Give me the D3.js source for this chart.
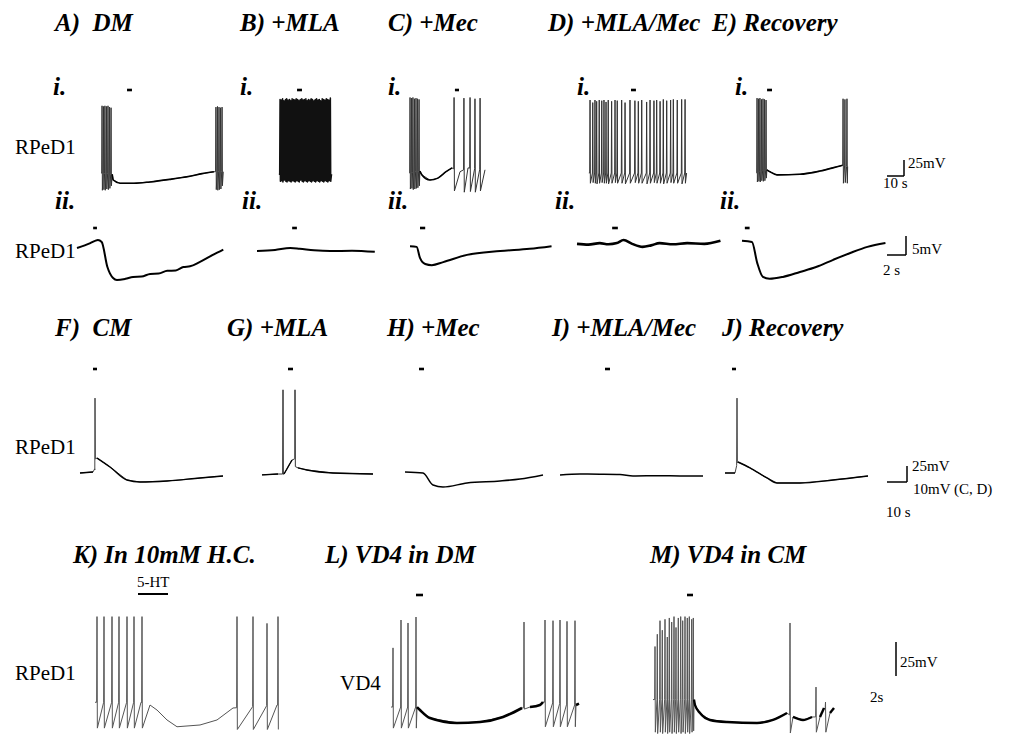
<!DOCTYPE html>
<html>
<head>
<meta charset="utf-8">
<script src="https://cdn.jsdelivr.net/npm/d3@7"></script>
<style>
html, body { margin: 0; padding: 0; background: #fff; }
svg { display: block; }
.title { font-family: "Liberation Serif", "Times New Roman", serif; font-weight: bold; font-style: italic; font-size: 25px; }
.lab { font-family: "Liberation Serif", "Times New Roman", serif; font-size: 21px; }
.sc { font-family: "Liberation Serif", "Times New Roman", serif; font-size: 15px; }
</style>
</head>
<body>
<svg id="fig" width="1016" height="734"></svg>
<script>
// --- Data: baseline points [s, mV], spikes [s, peak mV, trough mV], stimulus [s0, s1] ---

// row 1 (i.) : slow time base
const aBase = [[0.6,-60],[7.2,-62],[7.8,-71],[11.8,-76],[20,-76],[29.4,-74],[41,-70],[52.9,-65],[60,-61],[67,-58],[72.5,-58]];
const aSpikes = [[1.2,45,-87],[2.1,44,-86],[2.9,45,-87],[3.8,44,-85],[4.7,45,-86],[5.6,43,-84],[6.5,42,-80],
  [68.2,43,-86],[69.1,44,-87],[70.0,43,-86],[70.9,42,-85],[71.8,43,-80]];
const aStim = [15.9, 18.8];

const bBase = [[0.5,-62],[31.5,-62]];
const bSpikes = [[1.2,55,-73],[2.0,54,-72],[2.7,56,-74],[3.5,53,-71],[4.4,55,-73],[5.1,56,-74],[5.9,54,-72],[6.8,55,-73],
  [7.5,53,-74],[8.3,56,-72],[9.2,55,-73],[9.9,54,-74],[10.7,56,-72],[11.6,55,-73],[12.3,53,-74],[13.1,55,-71],
  [14.0,56,-73],[14.7,54,-74],[15.5,55,-72],[16.4,56,-73],[17.1,53,-74],[17.9,55,-72],[18.8,54,-73],[19.5,56,-74],
  [20.3,55,-72],[21.2,53,-73],[21.9,55,-74],[22.7,56,-72],[23.6,54,-73],[24.3,55,-74],[25.1,53,-72],[26.0,56,-73],
  [26.7,55,-74],[27.5,54,-72],[28.4,56,-73],[29.1,55,-74],[29.9,54,-72],[30.8,57,-73]];
const bStim = [11.2, 14.1];

const cBase = [[0.6,-60],[7.0,-57],[8.2,-63],[12.9,-71],[17.6,-68],[22.4,-58],[25.9,-52],[30.6,-58],[35.3,-52],[45.3,-55]];
const cSpikes = [[1.2,58,-85],[2.1,57,-84],[2.9,58,-86],[3.8,56,-85],[4.7,57,-84],[5.6,56,-83],[6.5,55,-80],
  [27.1,58,-88],[32.9,57,-90],[36.5,58,-89],[39.4,56,-90],[42.4,57,-88]];
const cStim = [27.6, 30.0];

const dBase = [[0.5,-60],[58,-60]];
const dSpikes = [[1.2,54,-76],[2.8,50,-75],[4.1,54,-76],[5.1,52,-77],[6.6,54,-76],[8.1,53,-75],[9.4,54,-76],[10.6,51,-76],
  [11.9,54,-77],[13.9,52,-76],[15.9,54,-75],[17.2,53,-76],[19.8,54,-76],[21.8,50,-77],[24.7,54,-76],[27.6,53,-75],
  [29.6,52,-76],[31.6,54,-76],[34.5,51,-77],[36.5,54,-76],[38.8,53,-75],[40.4,54,-76],[42.4,52,-76],[44.3,55,-77],
  [46.3,53,-76],[48.6,54,-75],[50.2,55,-76],[52.5,54,-76],[55.1,55,-77],[57.1,55,-76]];
const dStim = [25.3, 28.2];

const eBase = [[0.6,-60],[7.0,-55],[8.8,-58],[12.9,-63],[26.5,-62],[38.2,-57],[50,-49],[51.5,-48],[54.5,-50]];
const eSpikes = [[1.2,57,-74],[2.1,56,-73],[2.9,57,-74],[3.8,55,-72],[4.7,56,-73],[5.6,55,-72],[6.5,54,-68],
  [51.8,56,-76],[52.9,55,-75],[54.1,56,-76]];
const eStim = [7.1, 10.0];

// row 2 (ii.) : fast time base, subthreshold
const a2Base = [[0,-60.8],[1.4,-59.5],[1.9,-58.9],[2.2,-58.7],[2.6,-59.2],[3.2,-65.8],[3.8,-68.7],[4.2,-69.2],[5.1,-68.9],
  [5.9,-68.4],[6.8,-68.3],[7.7,-67.6],[8.6,-67.5],[9.5,-66.8],[10.4,-66.7],[11.2,-65.8],[11.9,-65.6],[12.9,-64.5],
  [14.3,-62.6],[15.4,-61.2]];
const a2Stim = [1.7, 2.1];
const b2Base = [[0,-61.6],[1.9,-61.3],[3.5,-60.8],[4.5,-61],[6,-61.4],[7.7,-61.6],[10,-61.5],[12.4,-61.8]];
const b2Stim = [3.7, 4.2];
const c2Base = [[0,-60.3],[0.7,-60.5],[1.05,-63.4],[1.6,-65],[2.3,-65.3],[3.5,-64.5],[6.0,-62.6],[9.5,-61.6],[12.6,-61],[14.9,-60.3]];
const c2Stim = [1.05, 1.6];
const d2Base = [[0,-59.7],[1.2,-59.9],[2.4,-59.5],[3.3,-59.8],[4.2,-59.5],[4.9,-58.7],[5.8,-59.7],[6.9,-60.5],[7.8,-60.1],
  [8.7,-59.5],[10.1,-59.8],[11.6,-59.5],[13.4,-59.7],[15.1,-58.9]];
const d2Stim = [3.7, 4.3];
const e2Base = [[0,-58.9],[1.05,-59.2],[1.6,-64.7],[2.2,-68.4],[2.9,-68.9],[4.3,-68.4],[6.1,-67.1],[7.8,-65.8],[9.6,-63.9],
  [11.4,-62.1],[13.2,-60.5],[15.1,-59.5]];
const e2Stim = [0.3, 0.8];

// row 3 : CM
const fBase = [[0,-60],[6.5,-58.4],[7.4,-55.3],[8.5,-36.6],[15,-50.6],[23.5,-71],[30,-74],[43.5,-72.5],[60,-67.8],[71.5,-64.7]];
const fSpikes = [[7.5,57,-38]];
const fStim = [6.5, 8.5];
const gBase = [[0,-63],[8,-61.6],[11,-61.6],[15,-39.7],[16.4,-37],[18,-52],[22.5,-55.3],[35.5,-60],[55.5,-61.6]];
const gSpikes = [[10.5,70,-62],[16.5,70,-50]];
const gStim = [13, 15.5];
const hBase = [[0,-58.4],[9,-60],[14,-78.8],[19,-81.9],[31,-75.6],[47.5,-72.5],[57.5,-69.4],[69,-63]];
const hStim = [7, 9.5];
const iBase = [[0,-63],[10,-61.6],[20,-61.8],[30,-62.3],[36.5,-64.7],[50,-64.2],[60,-64.7],[71.5,-64.7]];
const iStim = [22.5, 25];
const jBase = [[0,-60],[5,-60],[6.5,-42.8],[12.5,-52],[21,-67.8],[26,-75.6],[37.5,-75.6],[54,-71],[71.5,-64.7]];
const jSpikes = [[6,57,-44]];
const jStim = [3.5, 5.5];

// row 4
const kBase = [[0,-58],[4.6,-58],[5.5,-60],[6.2,-63.7],[7.2,-71],[8.2,-76],[10.5,-74.7],[12.2,-71],[13.8,-62.2],[18.2,-60]];
const kSpikes = [[0.2,5,-77],[0.9,5,-77],[1.7,5,-77],[2.4,5,-77],[3.2,5,-77],[3.9,5,-77],[4.7,5,-77],
  [14.2,5,-78],[15.8,5,-78],[17.2,0,-78],[18.3,5,-78]];
const kStim = [4.3, 7.3];
const lBase = [[0,-61.5],[2.6,-61.5],[2.9,-63.7],[3.9,-69.6],[6.6,-73.2],[8.9,-72.5],[11.2,-68.8],[13.1,-62.2],[13.9,-61.5],
  [14.9,-60],[15.2,-57.8],[18.5,-60],[18.8,-59]];
const lSpikes = [[0.2,-18,-77],[1.0,2.5,-77],[1.7,0.3,-77],[2.5,4.7,-77],[13.3,1,-63],
  [15.4,2.5,-76],[16.2,2,-76],[16.9,2.5,-76],[17.6,1.5,-76],[18.4,2,-76]];
const lStim = [2.5, 3.2];
const mBase = [[0,-56],[4.1,-56],[4.2,-60],[4.7,-65.9],[5.7,-71],[7.4,-72.5],[10.4,-73.2],[12,-71],[13.4,-65.9],[14,-68.8],
  [15,-71],[15.9,-68.8],[16.7,-68.8],[17.1,-62.2],[17.7,-65.9],[18.1,-62.2]];
const mSpikes = [[0.2,-17,-80],[0.43,-8,-81],[0.7,2,-80],[0.93,-5,-81],[1.2,3,-80],[1.43,-10,-81],[1.63,4,-80],[1.87,1,-81],
  [2.1,5,-80],[2.3,-3,-81],[2.53,4,-80],[2.77,5,-81],[2.97,2,-80],[3.2,5,-81],[3.43,4,-80],[3.63,5,-81],[3.87,3,-80],
  [4.03,4,-79],[13.7,0.3,-80.6],[16.3,-46.8,-80],[17.25,-57.8,-80]];
const mStim = [3.4, 4.0];

// --- Layout ---
const svg = d3.select("#fig");
const rows = [
  { pxS: 1.7, rest: 173, pxMV: 0.64, stimY: 90 },
  { pxS: 9.5, rest: 245, pxMV: 3.8, stimY: 228 },
  { pxS: 2.0, rest: 473, pxMV: 0.64, stimY: 369 },
  { pxS: 10, rest: 705, pxMV: 1.36, stimY: 595 }
];

const panels = [
  { row: 0, x0: 100, base: aBase, spikes: aSpikes, stim: aStim, thick: 1.6, color: "#333" },
  { row: 0, x0: 278, base: bBase, spikes: bSpikes, stim: bStim, thick: 0, sw: 1.5, color: "#111" },
  { row: 0, x0: 408, base: cBase, spikes: cSpikes, stim: cStim, thick: 1.6, color: "#333" },
  { row: 0, x0: 588, base: dBase, spikes: dSpikes, stim: dStim, thick: 0, color: "#333" },
  { row: 0, x0: 755, base: eBase, spikes: eSpikes, stim: eStim, thick: 1.6, color: "#333" },
  { row: 1, x0: 77, base: a2Base, spikes: [], stim: a2Stim, thick: 2 },
  { row: 1, x0: 257, base: b2Base, spikes: [], stim: b2Stim, thick: 2 },
  { row: 1, x0: 410, base: c2Base, spikes: [], stim: c2Stim, thick: 2 },
  { row: 1, x0: 577, base: d2Base, spikes: [], stim: d2Stim, thick: 2.6 },
  { row: 1, x0: 742, base: e2Base, spikes: [], stim: e2Stim, thick: 2 },
  { row: 2, x0: 80, base: fBase, spikes: fSpikes, stim: fStim, thick: 1.4, color: "#444" },
  { row: 2, x0: 262, base: gBase, spikes: gSpikes, stim: gStim, thick: 1.4, color: "#333" },
  { row: 2, x0: 405, base: hBase, spikes: [], stim: hStim, thick: 1.5 },
  { row: 2, x0: 560, base: iBase, spikes: [], stim: iStim, thick: 1.5 },
  { row: 2, x0: 725, base: jBase, spikes: jSpikes, stim: jStim, thick: 1.4, color: "#444" },
  { row: 3, x0: 95, base: kBase, spikes: kSpikes, stim: kStim, thick: 0, color: "#555", stimW: 2, stimY: 594 },
  { row: 3, x0: 391, base: lBase, spikes: lSpikes, stim: lStim, thick: 2.6, color: "#555" },
  { row: 3, x0: 653, base: mBase, spikes: mSpikes, stim: mStim, thick: 2.4, color: "#555" }
];

function drawPanel(p) {
  const r = rows[p.row];
  const x = d3.scaleLinear().domain([0, 1]).range([p.x0, p.x0 + r.pxS]);
  const y = d3.scaleLinear().domain([-60, -35]).range([r.rest, r.rest - 25 * r.pxMV]);
  const thr = d3.scaleLinear().domain(p.base.map(d => d[0])).range(p.base.map(d => d[1])).clamp(true);
  const w = 0.35 / r.pxS;

  const pts = p.base.map(d => [d[0], d[1]]);
  p.spikes.forEach(s => {
    pts.push([s[0] - w, thr(s[0])], [s[0], s[1]], [s[0] + w, s[2]]);
  });
  pts.sort((a, b) => a[0] - b[0]);

  const line = d3.line().x(d => x(d[0])).y(d => y(d[1]));
  const g = svg.append("g");

  if (p.spikes.length) {
    g.append("path").attr("d", line(pts))
      .attr("fill", "none").attr("stroke", p.color || "#222")
      .attr("stroke-width", p.sw || 1).attr("stroke-linejoin", "round");
  }

  // baseline stretches without spikes get a heavier pen
  if (p.thick) {
    const segs = [];
    let cur = [p.base[0]];
    for (let i = 1; i < p.base.length; i++) {
      const a = p.base[i - 1][0], b = p.base[i][0];
      if (p.spikes.some(s => s[0] > a - w && s[0] < b + w)) { segs.push(cur); cur = [p.base[i]]; }
      else cur.push(p.base[i]);
    }
    segs.push(cur);
    const smooth = d3.line().x(d => x(d[0])).y(d => y(d[1])).curve(d3.curveMonotoneX);
    segs.filter(s => s.length > 1).forEach(s => {
      g.append("path").attr("d", smooth(s))
        .attr("fill", "none").attr("stroke", "#000")
        .attr("stroke-width", p.thick).attr("stroke-linejoin", "round");
    });
  }

  // stimulus bar
  const sy = p.stimY || r.stimY;
  g.append("line")
    .attr("x1", x(p.stim[0])).attr("x2", x(p.stim[1]))
    .attr("y1", sy).attr("y2", sy)
    .attr("stroke", "#000").attr("stroke-width", p.stimW || 2.6);
}

panels.forEach(drawPanel);

// --- Text ---
const titles = [
  ["A)  DM", 55, 31], ["B) +MLA", 240, 31], ["C) +Mec", 388, 31], ["D) +MLA/Mec", 548, 31], ["E) Recovery", 712, 31],
  ["F)  CM", 55, 336], ["G) +MLA", 227, 336], ["H) +Mec", 387, 336], ["I) +MLA/Mec", 552, 336], ["J) Recovery", 722, 336],
  ["K) In 10mM H.C.", 73, 563], ["L) VD4 in DM", 325, 563], ["M) VD4 in CM", 650, 563],
  ["i.", 53, 95], ["i.", 240, 95], ["i.", 388, 95], ["i.", 577, 95], ["i.", 735, 95],
  ["ii.", 55, 209], ["ii.", 242, 209], ["ii.", 388, 209], ["ii.", 555, 209], ["ii.", 720, 209]
];
svg.selectAll(".title").data(titles).enter().append("text")
  .attr("class", "title").attr("x", d => d[1]).attr("y", d => d[2])
  .style("white-space", "pre").text(d => d[0]);

const labels = [["RPeD1", 15, 154], ["RPeD1", 15, 258], ["RPeD1", 15, 454], ["RPeD1", 15, 680], ["VD4", 340, 690]];
svg.selectAll(".lab").data(labels).enter().append("text")
  .attr("class", "lab").attr("x", d => d[1]).attr("y", d => d[2]).text(d => d[0]);

svg.append("text").attr("class", "sc").attr("x", 137).attr("y", 587).text("5-HT");

// --- Scale bars ---
function scaleBar(r, x, y, sec, mv) {
  const row = rows[r];
  const g = svg.append("g").attr("stroke", "#000").attr("stroke-width", 1.5);
  if (sec) g.append("line").attr("x1", x - sec * row.pxS).attr("x2", x).attr("y1", y).attr("y2", y);
  g.append("line").attr("x1", x).attr("x2", x).attr("y1", y).attr("y2", y - mv * row.pxMV);
}
scaleBar(0, 904, 176, 10, 25);
scaleBar(1, 906, 255, 2, 5);
scaleBar(2, 907, 482, 10, 25);
scaleBar(3, 896, 676, 0, 25);

const scTexts = [
  ["25mV", 908, 168], ["10 s", 883, 188],
  ["5mV", 912, 254], ["2 s", 883, 275],
  ["25mV", 912, 471], ["10mV (C, D)", 913, 494], ["10 s", 886, 517],
  ["25mV", 900, 667], ["2s", 870, 702]
];
svg.selectAll(".sct").data(scTexts).enter().append("text")
  .attr("class", "sc").attr("x", d => d[1]).attr("y", d => d[2]).text(d => d[0]);
</script>
</body>
</html>
